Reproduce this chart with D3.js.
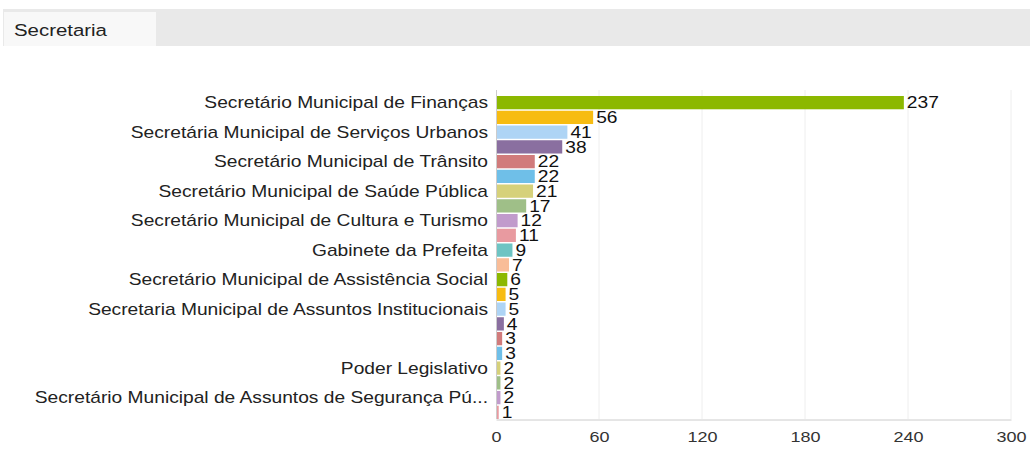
<!DOCTYPE html>
<html>
<head>
<meta charset="utf-8">
<script src="https://cdn.jsdelivr.net/npm/d3@7"></script>
<style>
  body { margin: 0; background: #fff; font-family: "Liberation Sans", Arial, sans-serif; }
  svg { display: block; }
</style>
</head>
<body>
<script>
// categories (only every other label is visible in the chart)
var categories = [
  "Secretário Municipal de Finanças", "",
  "Secretária Municipal de Serviços Urbanos", "",
  "Secretário Municipal de Trânsito", "",
  "Secretário Municipal de Saúde Pública", "",
  "Secretário Municipal de Cultura e Turismo", "",
  "Gabinete da Prefeita", "",
  "Secretário Municipal de Assistência Social", "",
  "Secretaria Municipal de Assuntos Institucionais", "",
  "", "",
  "Poder Legislativo", "",
  "Secretário Municipal de Assuntos de Segurança Pú...", ""
];
var values = [237, 56, 41, 38, 22, 22, 21, 17, 12, 11, 9, 7, 6, 5, 5, 4, 3, 3, 2, 2, 2, 1];
var xTicks = [0, 60, 120, 180, 240, 300];
var palette = ["#8cb800", "#f7bc12", "#aed4f5", "#8a6fa0", "#d17b7b", "#6fbfe8",
               "#d6d17a", "#9fbf88", "#c19bcc", "#e89aa0", "#6ec4c3", "#f9bd98"];

var totalWidth = 1030, totalHeight = 462;
var margin = {top: 96, left: 496, right: 19, bottom: 43};
var width = totalWidth - margin.left - margin.right;
var height = totalHeight - margin.top - margin.bottom;
var stretch = 1.2; // text in the picture is drawn wider than normal

function place(x, y) {
    return "translate(" + x + "," + y + ") scale(" + stretch + ",1)";
}

var svg = d3.select("body").append("svg")
    .attr("width", totalWidth)
    .attr("height", totalHeight);

// header strip with tab
svg.append("rect").attr("x", 3).attr("y", 9).attr("width", 1027).attr("height", 37).attr("fill", "#e9e9e9");
svg.append("rect").attr("x", 4).attr("y", 12).attr("width", 152).attr("height", 34).attr("fill", "#f8f8f8");
svg.append("text").attr("transform", place(14, 36)).attr("font-size", 17).attr("fill", "#222").text("Secretaria");

var g = svg.append("g")
    .attr("transform", "translate(" + margin.left + "," + margin.top + ")");

var x = d3.scaleLinear().domain([0, 300]).range([0, width]);
var y = d3.scaleBand()
    .domain(d3.range(values.length))
    .range([0, height])
    .paddingInner(0.1);

// grid lines
g.selectAll(".grid")
    .data(xTicks.slice(1))
    .enter()
    .append("line")
        .attr("x1", function(d) {return x(d)})
        .attr("x2", function(d) {return x(d)})
        .attr("y1", -6)
        .attr("y2", height)
        .attr("stroke", "#eeeeee");

// bars
g.selectAll(".bar")
    .data(values)
    .enter()
    .append("rect")
        .attr("x", 1)
        .attr("y", function(d, i) {return y(i)})
        .attr("width", function(d) {return x(d)})
        .attr("height", y.bandwidth())
        .attr("fill", function(d, i) {return palette[i % palette.length]});

// value labels
g.selectAll(".val")
    .data(values)
    .enter()
    .append("text")
        .attr("transform", function(d, i) {return place(x(d) + 4, y(i) + y.bandwidth() / 2)})
        .attr("dy", "0.36em")
        .attr("font-size", 16)
        .attr("fill", "#111")
        .text(function(d) {return d});

// category labels
g.selectAll(".cat")
    .data(categories)
    .enter()
    .append("text")
        .attr("transform", function(d, i) {return place(-8, y(i) + y.bandwidth() / 2)})
        .attr("dy", "0.36em")
        .attr("text-anchor", "end")
        .attr("font-size", 16)
        .attr("fill", "#222")
        .text(function(d) {return d});

// y axis line
g.append("line")
    .attr("x1", 0.5).attr("x2", 0.5)
    .attr("y1", -6).attr("y2", height)
    .attr("stroke", "#cccccc");

// x axis
var xAxis = d3.axisBottom(x).tickValues(xTicks).tickSize(0).tickPadding(12);
var ax = g.append("g")
    .attr("transform", "translate(0," + (height + 0.5) + ")")
    .call(xAxis);
ax.select(".domain").attr("stroke", "#cccccc");
ax.selectAll("text")
    .attr("transform", "scale(" + stretch + ",1)")
    .attr("font-family", "Liberation Sans, Arial, sans-serif")
    .attr("font-size", 15)
    .attr("fill", "#333");
</script>
</body>
</html>
